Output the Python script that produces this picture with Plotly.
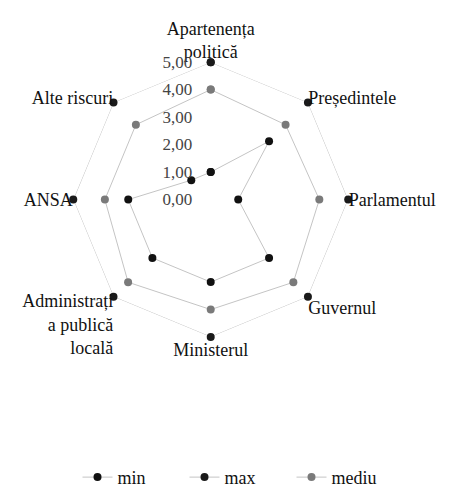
import plotly.graph_objects as go

categories = ["Apartenența<br>politică", "Președintele", "Parlamentul", "Guvernul",
              "Ministerul", "Administrați<br>a publică<br>locală", "ANSA", "Alte riscuri"]
min_vals = [1, 3, 1, 3, 3, 3, 3, 1]
max_vals = [5, 5, 5, 5, 5, 5, 5, 5]
mediu_vals = [4.0, 3.85, 3.95, 4.25, 4.0, 4.25, 3.85, 3.85]
tick_vals = [0, 1, 2, 3, 4, 5]
tick_text = ["0,00", "1,00", "2,00", "3,00", "4,00", "5,00"]

fig = go.Figure()
series = [("min", min_vals, "#111111"), ("max", max_vals, "#1a1a1a"), ("mediu", mediu_vals, "#7a7a7a")]
for name, vals, col in series:
    fig.add_trace(go.Scatterpolar(
        r=vals + vals[:1], theta=categories + categories[:1], name=name,
        mode="lines+markers",
        line=dict(color="#c4c4c4", width=1),
        marker=dict(color=col, size=8),
        cliponaxis=False,
    ))

fig.update_layout(
    width=451, height=488,
    margin=dict(l=0, r=0, t=0, b=0),
    paper_bgcolor="white",
    font=dict(family="Liberation Serif", size=18, color="#111"),
    polar=dict(
        domain=dict(x=[0.139, 0.760], y=[0.313, 0.887]),
        bgcolor="rgba(0,0,0,0)",
        angularaxis=dict(direction="clockwise", rotation=90, showgrid=False,
                         showline=False, linewidth=0, linecolor="rgba(0,0,0,0)",
                         gridcolor="rgba(0,0,0,0)", ticks="", tickfont=dict(size=18)),
        radialaxis=dict(range=[0, 5], tickvals=tick_vals, ticktext=tick_text,
                        angle=90, tickangle=90, side="counterclockwise", showgrid=False,
                        gridcolor="rgba(0,0,0,0)", linecolor="rgba(0,0,0,0)",
                        showline=False, ticks="outside", ticklen=12,
                        tickcolor="rgba(0,0,0,0)",
                        tickfont=dict(size=17, color="#444")),
        gridshape="linear",
    ),
    legend=dict(orientation="h", x=0.51, xanchor="center", y=0.02, yanchor="middle",
                entrywidth=62, entrywidthmode="pixels", font=dict(size=18)),
)
fig.write_html("out.html")
